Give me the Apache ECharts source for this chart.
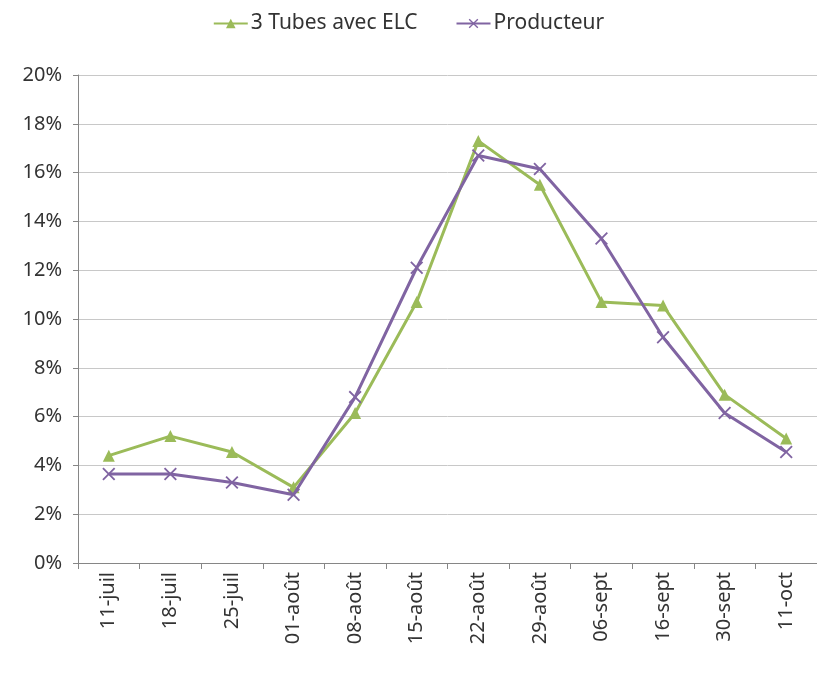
<!DOCTYPE html>
<html>
<head>
<meta charset="utf-8">
<script src="https://cdn.jsdelivr.net/npm/echarts@6/dist/echarts.min.js"></script>
<style>
  html, body { margin: 0; padding: 0; background: #fff; }
  #chart { width: 817px; height: 674px; }
</style>
</head>
<body>
<div id="chart"></div>
<script>
var dates = ['11-juil', '18-juil', '25-juil', '01-août', '08-août', '15-août',
  '22-août', '29-août', '06-sept', '16-sept', '30-sept', '11-oct'];
var tubesELC = [4.4, 5.2, 4.55, 3.1, 6.15, 10.7, 17.3, 15.5, 10.7, 10.55, 6.9, 5.1];
var producteur = [3.65, 3.65, 3.3, 2.8, 6.8, 12.1, 16.7, 16.15, 13.3, 9.25, 6.15, 4.55];

var crossPath = 'path://M0,1L1,0L5,4L9,0L10,1L6,5L10,9L9,10L5,6L1,10L0,9L4,5Z';

var myChart = echarts.init(document.getElementById('chart'));
var option = {
  animation: false,
  textStyle: { fontFamily: 'Noto Sans' },
  legend: {
    top: 8,
    left: 'center',
    itemWidth: 34,
    itemHeight: 12,
    itemGap: 38,
    textStyle: { color: '#333333', fontSize: 21, padding: [0, 0, 0, -2] },
    data: ['3 Tubes avec ELC', 'Producteur']
  },
  grid: {
    left: 78,
    right: -6,
    top: 75,
    bottom: 111,
    containLabel: false
  },
  xAxis: {
    type: 'category',
    data: dates,
    boundaryGap: true,
    axisLine: { lineStyle: { color: '#868686', width: 1 } },
    axisTick: { show: true, length: 6, lineStyle: { color: '#868686' } },
    axisLabel: {
      rotate: 90,
      color: '#333333',
      fontSize: 20,
      margin: 9,
      interval: 0
    }
  },
  yAxis: {
    type: 'value',
    min: 0,
    max: 20,
    interval: 2,
    axisLine: { show: true, lineStyle: { color: '#868686', width: 1 } },
    axisTick: { show: true, length: 5, lineStyle: { color: '#868686' } },
    axisLabel: {
      formatter: '{value}%',
      color: '#333333',
      fontSize: 20,
      margin: 16
    },
    splitLine: { lineStyle: { color: '#c8c8c8', width: 1 } }
  },
  series: [
    {
      name: '3 Tubes avec ELC',
      type: 'line',
      data: tubesELC,
      symbol: 'triangle',
      symbolSize: 12,
      lineStyle: { color: '#9BBB59', width: 3 },
      itemStyle: { color: '#9BBB59' },
      z: 2
    },
    {
      name: 'Producteur',
      type: 'line',
      data: producteur,
      symbol: crossPath,
      symbolSize: 13,
      lineStyle: { color: '#8064A2', width: 3 },
      itemStyle: { color: '#8064A2' },
      z: 3
    }
  ]
};
myChart.setOption(option);
</script>
</body>
</html>
